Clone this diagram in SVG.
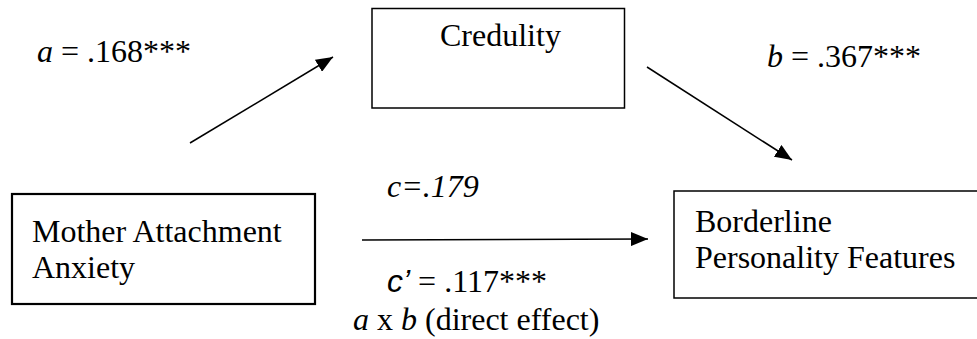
<svg xmlns="http://www.w3.org/2000/svg" width="977" height="339" viewBox="0 0 977 339">
<style>
text { font-family: "Liberation Serif", "Times New Roman", serif; font-size: 32px; fill: #000; }
.box { fill: #fff; stroke: #000; stroke-width: 1.5; }
.thick { stroke-width: 2.2; }
.i { font-style: italic; }
.conn { stroke: #000; stroke-width: 1.5; fill: none; }
</style>
<defs>
<marker id="ah" markerUnits="userSpaceOnUse" markerWidth="18" markerHeight="14" refX="17" refY="7" orient="auto">
<path d="M0,0 L17,7 L0,14 z" fill="#000"/>
</marker>
</defs>
<rect width="977" height="339" fill="#fff"/>
<g id="credulity">
<rect class="box" x="372" y="8.5" width="252.5" height="99.5"/>
<text x="440" y="46">Credulity</text>
</g>
<g id="mother">
<rect class="box thick" x="12" y="194" width="303" height="110"/>
<text x="32" y="242">Mother Attachment</text>
<text x="32" y="278">Anxiety</text>
</g>
<g id="borderline">
<rect class="box" x="674" y="191" width="320" height="107"/>
<text x="695" y="232">Borderline</text>
<text x="695" y="268">Personality Features</text>
</g>
<g id="connectors">
<line class="conn" x1="190" y1="143" x2="333" y2="57" marker-end="url(#ah)"/>
<line class="conn" x1="647" y1="67" x2="792" y2="160" marker-end="url(#ah)"/>
<line class="conn" x1="362" y1="240" x2="648" y2="239" marker-end="url(#ah)"/>
</g>
<g id="labels">
<text x="37" y="62"><tspan class="i">a</tspan> = .168***</text>
<text x="767" y="67"><tspan class="i">b</tspan> = .367***</text>
<text x="387" y="197" class="i">c=.179</text>
<text x="387" y="292"><tspan class="i" style="font-family:'Liberation Sans','Arial',sans-serif">c’</tspan> = .117***</text>
<text x="353" y="330"><tspan class="i">a</tspan> x <tspan class="i">b</tspan> (direct effect)</text>
</g>
</svg>
